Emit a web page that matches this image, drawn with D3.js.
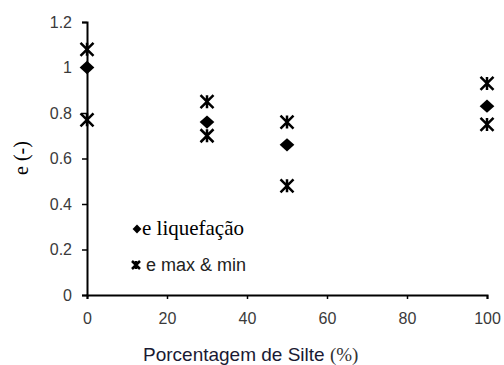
<!DOCTYPE html>
<html lang="pt">
<head>
  <meta charset="UTF-8">
  <title>e vs Porcentagem de Silte</title>
  <script src="https://d3js.org/d3.v7.min.js"></script>
  <style>
    body { margin: 0; padding: 0; background: #fff; }
    svg { display: block; }
    .tick text { font-family: Arial, "Liberation Sans", sans-serif; font-size: 16px; fill: #3a3a3a; }
  </style>
</head>
<body>
  <svg width="504" height="365"></svg>
  <script>
    // silt content (%) and void ratios
    const silt = [0, 30, 50, 100];
    const eLiq = [1.0, 0.76, 0.66, 0.83];
    const eMax = [1.08, 0.85, 0.76, 0.93];
    const eMin = [0.77, 0.70, 0.48, 0.75];
    const xTicks = [0, 20, 40, 60, 80, 100];
    const yTicks = [0, 0.2, 0.4, 0.6, 0.8, 1, 1.2];

    const svg = d3.select("svg");
    const margin = { left: 87, right: 17, top: 22, bottom: 70 };
    const width = 504, height = 365;

    const x = d3.scaleLinear().domain([0, 100]).range([margin.left, width - margin.right]);
    const y = d3.scaleLinear().domain([0, 1.2]).range([height - margin.bottom, margin.top]);

    svg.append("g")
      .attr("transform", `translate(0,${y(0)})`)
      .call(d3.axisBottom(x).tickValues(xTicks).tickFormat(d3.format("d")).tickSizeOuter(0).tickSize(4).tickPadding(14));

    svg.append("g")
      .attr("transform", `translate(${x(0)},0)`)
      .call(d3.axisLeft(y).tickValues(yTicks).tickFormat(d => d).tickSizeOuter(0).tickSize(5).tickPadding(10));

    svg.selectAll(".domain").attr("stroke", "#000").attr("stroke-width", 2);
    svg.selectAll(".tick line").attr("stroke", "#000").attr("stroke-width", 1.5);

    // star marker: X with a vertical bar
    const star = (g, s, w) => {
      g.append("path")
        .attr("d", `M${-s},${-s}L${s},${s}M${-s},${s}L${s},${-s}M0,${-s}L0,${s}`)
        .attr("stroke", "#000").attr("stroke-width", w).attr("fill", "none");
    };

    const diamond = d3.symbol().type(d3.symbolDiamond2).size(125);

    const pts = svg.append("g");
    silt.forEach((s, i) => {
      [eMax[i], eMin[i]].forEach(v => {
        star(pts.append("g").attr("transform", `translate(${x(s)},${y(v)})`), 6.5, 2.5);
      });
      pts.append("path")
        .attr("d", diamond())
        .attr("transform", `translate(${x(s)},${y(eLiq[i])}) scale(1.05,0.95)`)
        .attr("fill", "#000");
    });

    // legend
    const lg = svg.append("g");
    lg.append("path").attr("d", d3.symbol().type(d3.symbolDiamond2).size(50)())
      .attr("transform", "translate(137,229)").attr("fill", "#000");
    lg.append("text").attr("x", 142).attr("y", 235)
      .style("font-family", "'Liberation Serif', 'Times New Roman', serif").style("font-size", "21px")
      .text("e liquefação");
    star(lg.append("g").attr("transform", "translate(136,265)"), 4, 2.5);
    lg.append("text").attr("x", 146).attr("y", 271)
      .style("font-family", "Arial, 'Liberation Sans', sans-serif").style("font-size", "18px").attr("fill", "#222")
      .text("e max & min");

    // axis titles
    const xt = svg.append("text").attr("x", 143).attr("y", 361)
      .style("font-family", "Arial, 'Liberation Sans', sans-serif").style("font-size", "19px").attr("fill", "#1a1a33");
    xt.append("tspan").text("Porcentagem de Silte ");
    xt.append("tspan").style("font-family", "'Liberation Serif', serif").attr("fill", "#333").text("(%)");

    svg.append("text")
      .attr("transform", "translate(28,158) rotate(-90)")
      .attr("text-anchor", "middle")
      .style("font-family", "'Liberation Serif', 'Times New Roman', serif").style("font-size", "20px")
      .text("e (-)");
  </script>
</body>
</html>
